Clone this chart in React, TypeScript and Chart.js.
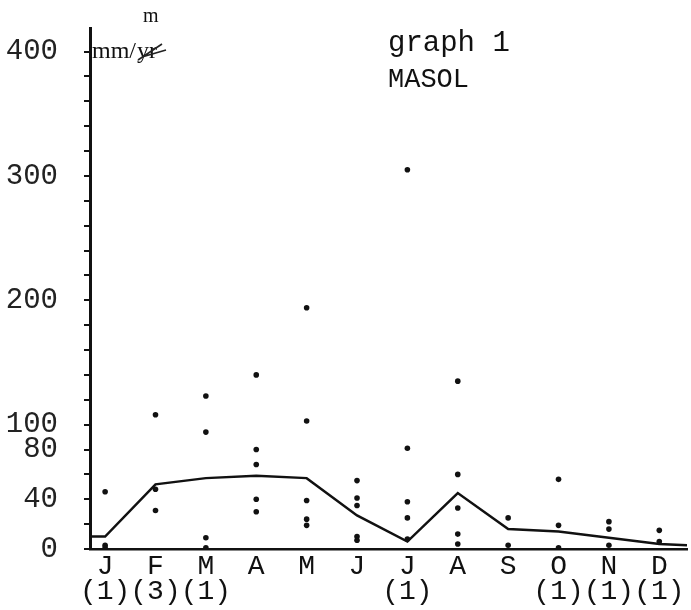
import React, { useEffect, useRef } from "react";
import { Chart, registerables } from "chart.js";

Chart.register(...registerables);

const MONTHS = ["J", "F", "M", "A", "M", "J", "J", "A", "S", "O", "N", "D"];
const COUNTS = ["(1)", "(3)", "(1)", "", "", "", "(1)", "", "", "(1)", "(1)", "(1)"];
const Y_LABELS = [0, 40, 80, 100, 200, 300, 400];

// monthly line values (mm)
const MEAN = [10, 52, 57, 59, 57, 27, 6, 45, 16, 14, 9, 4];
const LINE_START = 10;
const LINE_END = 3;

// individual observations per month
const OBS: number[][] = [
  [46, 3, 1],
  [108, 48, 31],
  [123, 94, 9, 1],
  [140, 80, 68, 40, 30],
  [194, 103, 39, 24, 19],
  [55, 41, 35, 10, 7],
  [305, 81, 38, 25, 8],
  [135, 60, 33, 12, 4],
  [25, 3],
  [56, 19, 1],
  [22, 16, 3],
  [15, 6],
];

const X_MIN = -0.3;
const X_MAX = 11.55;
const Y_MAX = 419;
const FONT = '"Liberation Mono", "DejaVu Sans Mono", monospace';

const textPlugin = {
  id: "typedText",
  afterDraw(chart: any) {
    const ctx = chart.ctx;
    ctx.save();
    ctx.fillStyle = "#111";
    ctx.textBaseline = "alphabetic";
    ctx.textAlign = "left";
    ctx.font = `29px ${FONT}`;
    ctx.fillText("graph 1", 388, 51);
    ctx.font = `27px ${FONT}`;
    ctx.fillText("MASOL", 388, 87);
    // unit label
    ctx.font = `24px "Liberation Serif", serif`;
    ctx.fillText("mm/", 92, 58);
    const w = ctx.measureText("mm/").width;
    ctx.fillText("yr", 92 + w + 1, 58);
    ctx.strokeStyle = "#222";
    ctx.lineWidth = 1.6;
    ctx.beginPath();
    ctx.moveTo(92 + w + 2, 60);
    ctx.lineTo(92 + w + 26, 44);
    ctx.moveTo(92 + w + 6, 57);
    ctx.lineTo(92 + w + 30, 50);
    ctx.stroke();
    ctx.font = `20px "Liberation Serif", serif`;
    ctx.fillText("m", 143, 22);
    ctx.restore();
  },
};

export default function App() {
  const ref = useRef<HTMLCanvasElement>(null);
  useEffect(() => {
    if (!ref.current) return;
    const lineData = [
      { x: X_MIN, y: LINE_START },
      ...MEAN.map((v, i) => ({ x: i, y: v })),
      { x: X_MAX, y: LINE_END },
    ];
    const pts: { x: number; y: number }[] = [];
    OBS.forEach((arr, i) => arr.forEach((v) => pts.push({ x: i, y: v })));
    const chart = new Chart(ref.current, {
      type: "scatter",
      data: {
        datasets: [
          {
            type: "line",
            data: lineData,
            borderColor: "#111",
            borderWidth: 2.5,
            pointRadius: 0,
            tension: 0,
            fill: false,
          } as any,
          {
            data: pts,
            backgroundColor: "#111",
            borderColor: "#111",
            pointRadius: 2.8,
            borderWidth: 0,
          },
        ],
      },
      plugins: [textPlugin],
      options: {
        animation: false,
        responsive: true,
        maintainAspectRatio: false,
        layout: { padding: { top: 28, right: 0, left: 0, bottom: 0 } },
        plugins: { legend: { display: false }, tooltip: { enabled: false } },
        scales: {
          x: {
            type: "linear",
            min: X_MIN,
            max: X_MAX,
            afterBuildTicks: (s: any) => {
              s.ticks = MONTHS.map((_, i) => ({ value: i }));
            },
            afterFit: (s: any) => {
              s.height = 61;
              s.paddingLeft = 0;
              s.paddingRight = 0;
            },
            border: { display: true, color: "#111", width: 2.5 },
            grid: { drawOnChartArea: false, drawTicks: true, tickLength: 3, color: "transparent" },
            ticks: {
              autoSkip: false,
              maxRotation: 0,
              padding: 2,
              color: "#111",
              font: { family: FONT, size: 28, lineHeight: 0.9 },
              callback: (v: any) => [MONTHS[v], COUNTS[v]],
            },
          },
          y: {
            type: "linear",
            min: 0,
            max: Y_MAX,
            afterBuildTicks: (s: any) => {
              const t = [];
              for (let v = 0; v <= 400; v += 20) t.push({ value: v });
              s.ticks = t;
            },
            afterFit: (s: any) => {
              s.width = 90;
              s.paddingTop = 0;
              s.paddingBottom = 0;
            },
            border: { display: true, color: "#111", width: 3 },
            grid: { drawOnChartArea: false, drawTicks: true, tickLength: 6, color: "#111", lineWidth: 2 },
            ticks: {
              autoSkip: false,
              padding: 26,
              color: "#222",
              font: { family: FONT, size: 29 },
              callback: (v: any) => (Y_LABELS.includes(v) ? String(v) : ""),
            },
          },
        },
      },
    });
    return () => chart.destroy();
  }, []);
  return (
    <div style={{ position: "fixed", left: 0, top: 0, width: 691, height: 610, background: "#fff" }}>
      <canvas ref={ref} />
    </div>
  );
}
